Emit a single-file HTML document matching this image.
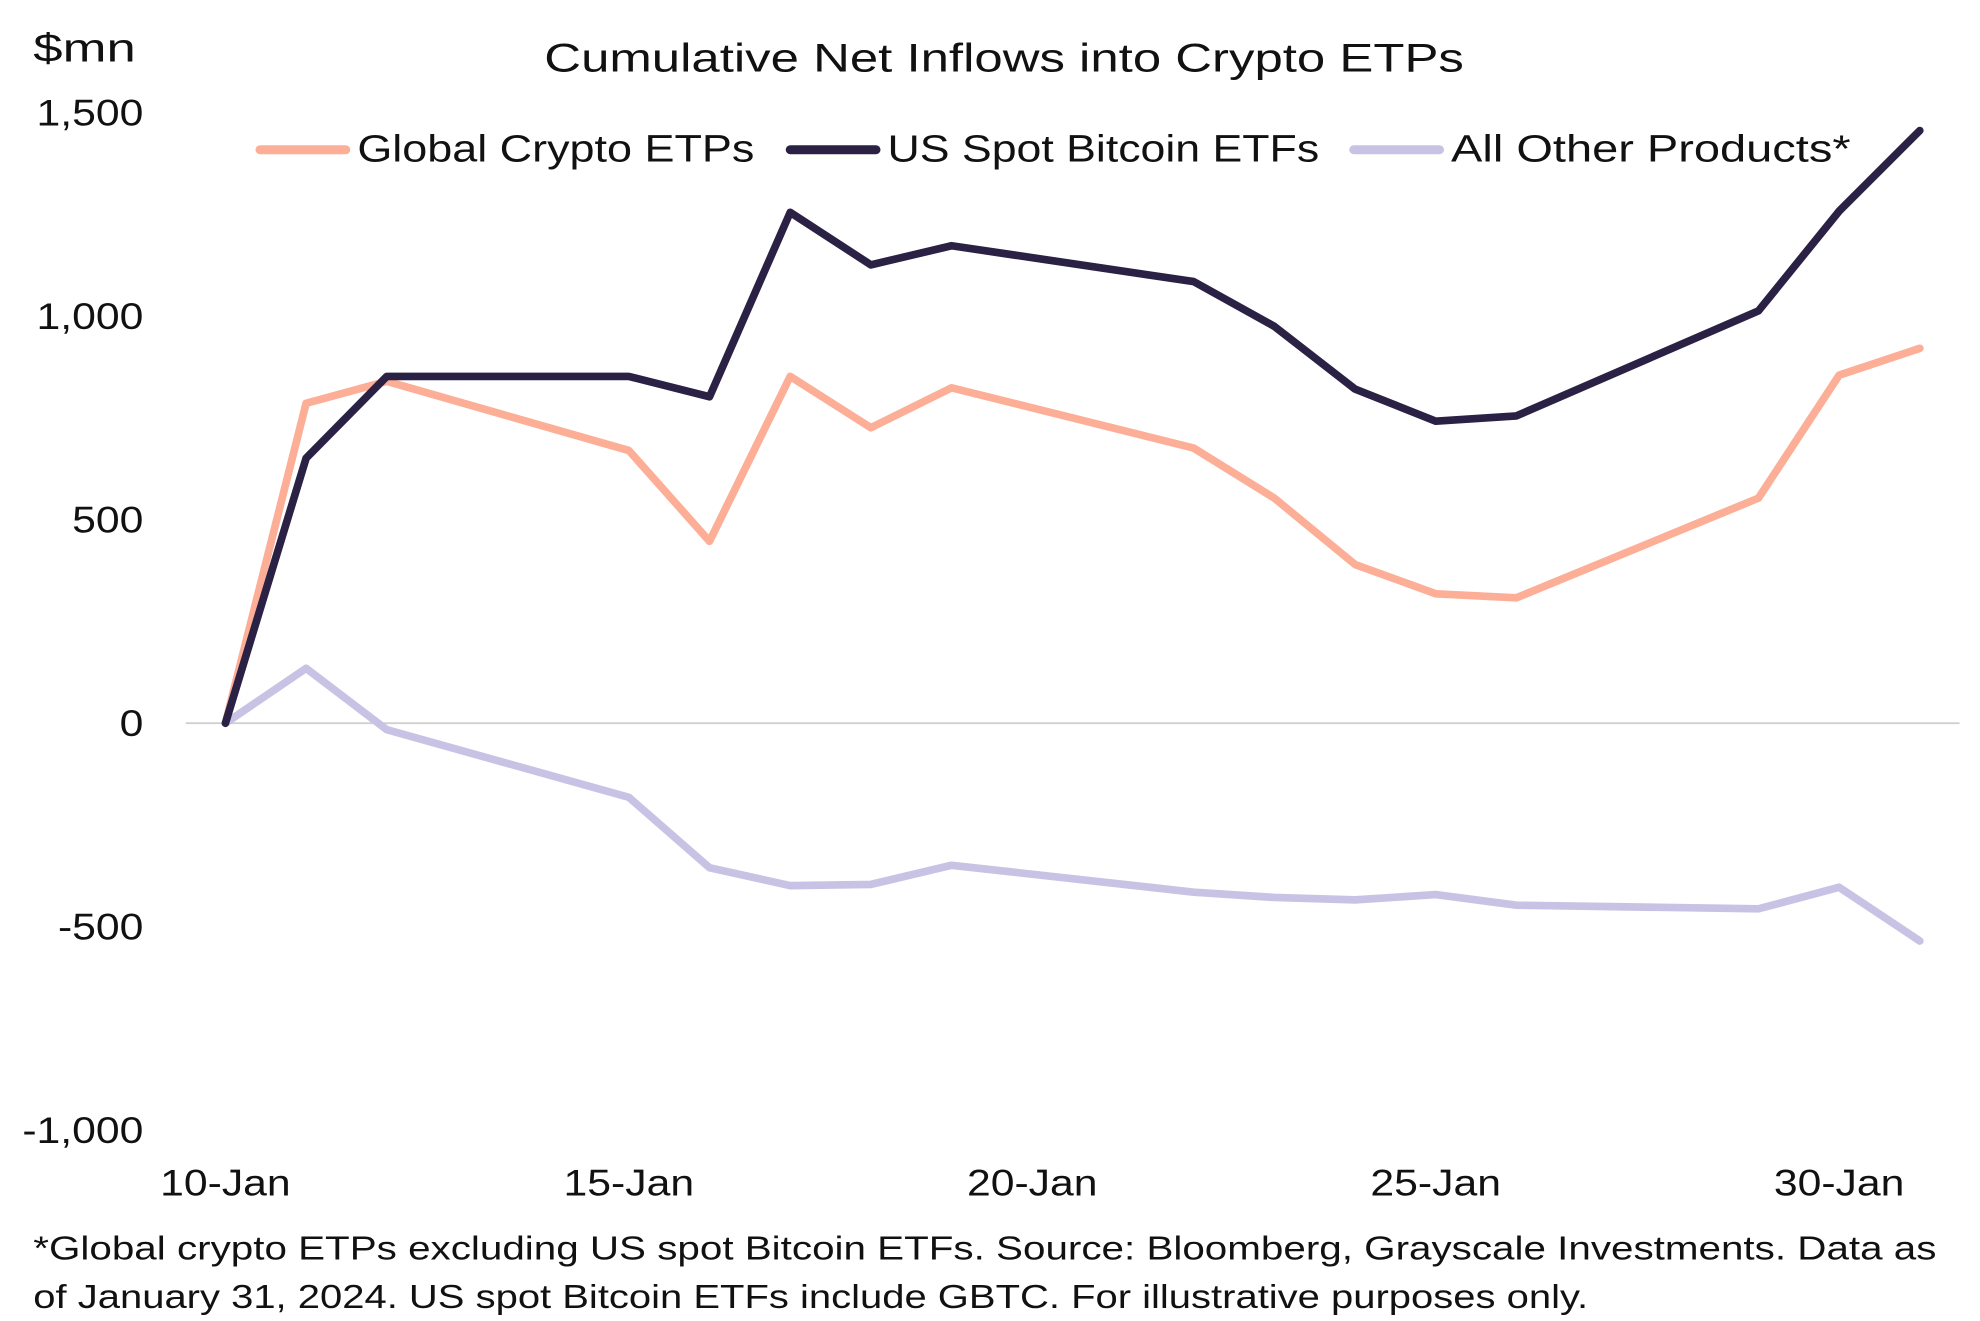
<!DOCTYPE html>
<html><head><meta charset="utf-8">
<style>
html,body{margin:0;padding:0;background:#fff;}
svg{display:block;font-family:"Liberation Sans",sans-serif;}
</style></head>
<body>
<svg id="chart" width="1980" height="1321" viewBox="0 0 1546 1032" preserveAspectRatio="none" xmlns="http://www.w3.org/2000/svg">
<text x="425" y="56" font-size="31" fill="#111" textLength="718" lengthAdjust="spacingAndGlyphs">Cumulative Net Inflows into Crypto ETPs</text>
<text x="26" y="48" font-size="31" fill="#111" textLength="80" lengthAdjust="spacingAndGlyphs">$mn</text>
<g id="axes"></g>
<g id="series"></g>
<g id="legend"></g>
<text x="26" y="984" font-size="26" fill="#111" textLength="1486" lengthAdjust="spacingAndGlyphs">*Global crypto ETPs excluding US spot Bitcoin ETFs. Source: Bloomberg, Grayscale Investments. Data as</text>
<text x="26" y="1022" font-size="26" fill="#111" textLength="1214" lengthAdjust="spacingAndGlyphs">of January 31, 2024. US spot Bitcoin ETFs include GBTC. For illustrative purposes only.</text>
</svg>
<script>
const days = [10,11,12,15,16,17,18,19,22,23,24,25,26,29,30,31];
const globalEtps = [0,786,840,670,447,852,726,824,676,553,390,318,308,553,855,921];
const usSpotBtc = [0,651,852,852,802,1255,1126,1173,1085,975,821,742,755,1013,1258,1456];
const otherProducts = [0,135,-16,-182,-355,-399,-396,-349,-415,-428,-434,-421,-447,-456,-403,-535];
const yTicks = [-1000,-500,0,500,1000,1500];
const yTickLabels = ["-1,000","-500","0","500","1,000","1,500"];
const xTicks = [10,15,20,25,30];
const xTickLabels = ["10-Jan","15-Jan","20-Jan","25-Jan","30-Jan"];
const seriesNames = ["Global Crypto ETPs","US Spot Bitcoin ETFs","All Other Products*"];

const NS="http://www.w3.org/2000/svg";
function xS(d){return 176+(d-10)*63;}
function yS(v){return 565-v*0.318;}
function mk(tag,attrs,parent){const e=document.createElementNS(NS,tag);for(const k in attrs)e.setAttribute(k,attrs[k]);parent.appendChild(e);return e;}
function widen(e,f){const w=e.getComputedTextLength();e.setAttribute('textLength',w*f);e.setAttribute('lengthAdjust','spacingAndGlyphs');}
const axes=document.getElementById('axes');
const zl=mk('line',{x1:145,x2:1530,y1:yS(0),y2:yS(0),stroke:'#d0d0d0','stroke-width':1.5},axes);


yTicks.forEach((t,i)=>{
  const e=mk('text',{x:112,y:yS(t)+10,'text-anchor':'end','font-size':29,fill:'#111'},axes);
  e.textContent=yTickLabels[i];
  
  
  widen(e,1.15);
});
xTicks.forEach((t,i)=>{
  const e=mk('text',{x:xS(t),y:934,'text-anchor':'middle','font-size':29,fill:'#111'},axes);
  e.textContent=xTickLabels[i];
  
  
  widen(e,1.15);
});
const ser=document.getElementById('series');
const colors=['#fcae97','#2a2145','#c8c3e4'];
const names=['global-crypto-etps-line','other-products-line','us-spot-bitcoin-line'];
[[globalEtps,colors[0],names[0]],[otherProducts,colors[2],names[1]],[usSpotBtc,colors[1],names[2]]].forEach(([vals,c,n])=>{
  const pts=vals.map((v,i)=>xS(days[i])+','+yS(v)).join(' ');
  const p=mk('polyline',{points:pts,fill:'none',stroke:c,'stroke-width':6,'stroke-linejoin':'round','stroke-linecap':'round'},ser);
  
  
});
const leg=document.getElementById('legend');
const lx=[200,614,1054];
const legLen=[310,337,312];
seriesNames.forEach((s,i)=>{
  const g=mk('g',{},leg);
  
  
  mk('line',{x1:lx[i]+3,x2:lx[i]+70,y1:117,y2:117,stroke:colors[i],'stroke-width':7,'stroke-linecap':'round'},g);
  const t=mk('text',{x:lx[i]+79,y:126,'font-size':30,fill:'#111',textLength:legLen[i],lengthAdjust:'spacingAndGlyphs'},g);
  t.textContent=s;
});
</script>
</body></html>
